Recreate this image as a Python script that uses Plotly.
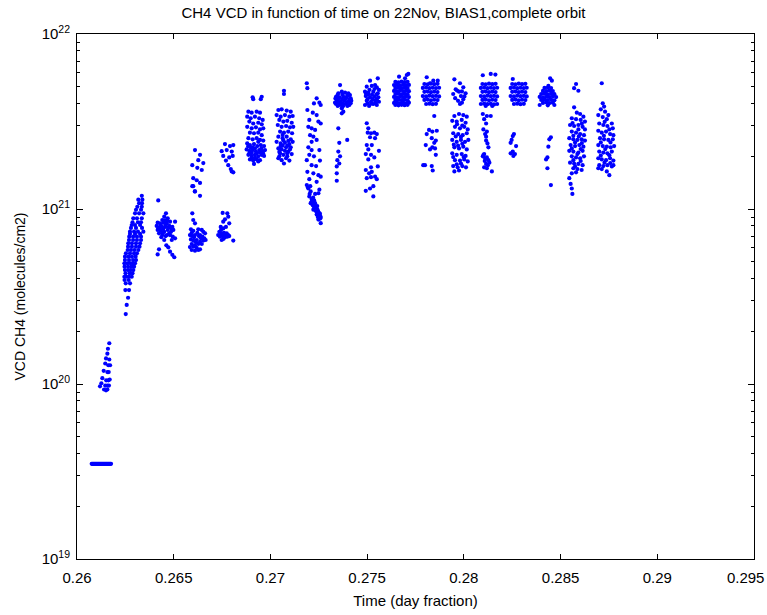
import plotly.graph_objects as go

# Each orbit segment: list of (time in day fraction, VCD CH4 in molecules/cm2)
seg01 = [(0.26076, 3.5e19), (0.26080, 3.5e19), (0.26084, 3.5e19), (0.26088, 3.5e19), (0.26092, 3.5e19),
         (0.26096, 3.5e19), (0.26100, 3.5e19), (0.26104, 3.5e19), (0.26108, 3.5e19), (0.26112, 3.5e19),
         (0.26116, 3.5e19), (0.26120, 3.5e19), (0.26124, 3.5e19), (0.26128, 3.5e19), (0.26132, 3.5e19),
         (0.26136, 3.5e19), (0.26140, 3.5e19), (0.26144, 3.5e19), (0.26148, 3.5e19), (0.26152, 3.5e19),
         (0.26156, 3.5e19), (0.26160, 3.5e19), (0.26164, 3.5e19), (0.26168, 3.5e19), (0.26172, 3.5e19),
         (0.26176, 3.5e19)]

seg02 = [(0.26167, 1.71e20), (0.26160, 1.59e20), (0.26157, 1.49e20), (0.26150, 1.40e20), (0.26167, 1.38e20),
         (0.26146, 1.31e20), (0.26162, 1.28e20), (0.26171, 1.28e20), (0.26138, 1.19e20), (0.26157, 1.17e20),
         (0.26164, 1.17e20), (0.26131, 1.08e20), (0.26151, 1.05e20), (0.26162, 1.05e20), (0.26169, 1.06e20),
         (0.26126, 1.01e20), (0.26146, 9.8e19), (0.26157, 9.8e19), (0.26165, 9.8e19), (0.26119, 9.7e19),
         (0.26140, 9.3e19), (0.26150, 9.2e19), (0.26157, 9.3e19)]

seg03 = [(0.26252, 2.51e20), (0.26257, 2.83e20), (0.26264, 3.11e20), (0.26250, 3.44e20), (0.26269, 3.44e20),
         (0.26252, 3.76e20), (0.26274, 3.76e20), (0.26246, 3.93e20), (0.26267, 3.93e20), (0.26245, 4.10e20),
         (0.26256, 4.10e20), (0.26269, 4.10e20), (0.26283, 4.10e20), (0.26251, 4.29e20), (0.26272, 4.29e20),
         (0.26287, 4.29e20), (0.26248, 4.48e20), (0.26264, 4.48e20), (0.26277, 4.48e20), (0.26291, 4.48e20),
         (0.26246, 4.68e20), (0.26264, 4.68e20), (0.26282, 4.68e20), (0.26295, 4.68e20), (0.26245, 4.89e20),
         (0.26261, 4.89e20), (0.26277, 4.89e20), (0.26290, 4.89e20), (0.26300, 4.89e20), (0.26248, 5.11e20),
         (0.26269, 5.11e20), (0.26290, 5.11e20), (0.26305, 5.11e20), (0.26248, 5.34e20), (0.26266, 5.34e20),
         (0.26284, 5.34e20), (0.26303, 5.34e20), (0.26253, 5.58e20), (0.26274, 5.58e20), (0.26295, 5.58e20),
         (0.26310, 5.58e20), (0.26262, 5.83e20), (0.26279, 5.83e20), (0.26297, 5.83e20), (0.26317, 5.83e20),
         (0.26264, 6.09e20), (0.26284, 6.09e20), (0.26305, 6.09e20), (0.26323, 6.09e20), (0.26265, 6.37e20),
         (0.26284, 6.37e20), (0.26305, 6.37e20), (0.26326, 6.37e20), (0.26269, 6.65e20), (0.26290, 6.65e20),
         (0.26310, 6.65e20), (0.26331, 6.65e20), (0.26270, 6.95e20), (0.26290, 6.95e20), (0.26310, 6.95e20),
         (0.26331, 6.95e20), (0.26274, 7.20e20), (0.26300, 7.20e20), (0.26326, 7.20e20), (0.26274, 7.42e20),
         (0.26295, 7.42e20), (0.26315, 7.42e20), (0.26343, 7.42e20), (0.26279, 7.80e20), (0.26305, 7.80e20),
         (0.26336, 7.80e20), (0.26283, 8.10e20), (0.26300, 8.10e20), (0.26326, 8.10e20), (0.26287, 8.40e20),
         (0.26315, 8.40e20), (0.26331, 8.40e20), (0.26291, 8.85e20), (0.26310, 8.85e20), (0.26335, 8.85e20),
         (0.26300, 9.45e20), (0.26321, 9.45e20), (0.26343, 9.45e20), (0.26305, 9.90e20), (0.26331, 9.90e20),
         (0.26312, 1.03e21), (0.26335, 1.03e21), (0.26321, 1.08e21), (0.26336, 1.08e21), (0.26317, 1.13e21),
         (0.26338, 1.13e21), (0.26335, 1.19e21)]

seg04 = [(0.26420, 1.12e21), (0.26460, 9.45e20), (0.26451, 9.04e20), (0.26469, 8.85e20), (0.26441, 8.65e20),
         (0.26417, 8.35e20), (0.26429, 8.28e20), (0.26446, 8.35e20), (0.26464, 8.28e20), (0.26481, 8.46e20),
         (0.26507, 8.46e20), (0.26412, 8.00e20), (0.26424, 7.86e20), (0.26438, 7.90e20), (0.26455, 7.90e20),
         (0.26472, 7.86e20), (0.26493, 7.90e20), (0.26417, 7.59e20), (0.26434, 7.50e20), (0.26451, 7.41e20),
         (0.26469, 7.59e20), (0.26486, 7.41e20), (0.26498, 7.59e20), (0.26424, 7.26e20), (0.26441, 7.10e20),
         (0.26464, 7.10e20), (0.26481, 7.10e20), (0.26495, 6.95e20), (0.26507, 6.80e20), (0.26490, 6.65e20),
         (0.26451, 6.65e20), (0.26462, 6.20e20), (0.26472, 6.04e20), (0.26481, 5.70e20), (0.26493, 5.47e20),
         (0.26503, 5.30e20), (0.26424, 5.88e20), (0.26417, 5.50e20), (0.26429, 7.59e20), (0.26446, 7.70e20),
         (0.26433, 8.10e20), (0.26458, 8.10e20), (0.26477, 8.00e20), (0.26421, 7.75e20), (0.26443, 7.30e20),
         (0.26476, 7.25e20), (0.26458, 7.00e20), (0.26436, 6.90e20), (0.26486, 7.75e20), (0.26466, 8.60e20),
         (0.26455, 8.60e20)]

seg05 = [(0.26601, 1.50e21), (0.26619, 1.46e21), (0.26636, 1.41e21), (0.26601, 1.35e21), (0.26610, 1.26e21),
         (0.26636, 1.19e21), (0.26645, 1.67e21), (0.26596, 1.35e21), (0.26609, 1.26e21), (0.26610, 2.17e21),
         (0.26636, 2.04e21), (0.26627, 1.90e21), (0.26653, 1.83e21), (0.26596, 1.78e21), (0.26622, 1.72e21),
         (0.26596, 9.45e20), (0.26601, 8.65e20), (0.26610, 8.28e20), (0.26589, 7.66e20), (0.26601, 7.50e20),
         (0.26627, 7.66e20), (0.26645, 7.59e20), (0.26653, 7.41e20), (0.26662, 7.26e20), (0.26584, 7.10e20),
         (0.26596, 7.00e20), (0.26610, 7.10e20), (0.26636, 7.10e20), (0.26648, 6.95e20), (0.26658, 6.80e20),
         (0.26589, 6.70e20), (0.26601, 6.60e20), (0.26619, 6.65e20), (0.26636, 6.50e20), (0.26653, 6.60e20),
         (0.26665, 6.65e20), (0.26593, 6.31e20), (0.26610, 6.20e20), (0.26627, 6.31e20), (0.26645, 6.31e20),
         (0.26593, 5.83e20), (0.26610, 5.78e20), (0.26627, 5.83e20), (0.26636, 5.88e20), (0.26584, 6.06e20),
         (0.26619, 6.00e20), (0.26605, 6.90e20), (0.26622, 7.30e20), (0.26641, 6.80e20), (0.26615, 6.45e20),
         (0.26593, 7.30e20), (0.26630, 7.00e20), (0.26602, 6.10e20)]

seg06 = [(0.26753, 9.50e20), (0.26777, 9.45e20), (0.26782, 9.04e20), (0.26765, 8.73e20), (0.26756, 8.46e20),
         (0.26787, 8.28e20), (0.26743, 7.90e20), (0.26756, 7.74e20), (0.26770, 7.90e20), (0.26736, 7.41e20),
         (0.26748, 7.26e20), (0.26760, 7.30e20), (0.26774, 7.26e20), (0.26782, 7.10e20), (0.26739, 6.95e20),
         (0.26753, 7.00e20), (0.26765, 6.90e20), (0.26777, 6.95e20), (0.26787, 7.00e20), (0.26748, 6.65e20),
         (0.26808, 6.60e20), (0.26730, 7.10e20), (0.26745, 7.60e20), (0.26762, 7.10e20), (0.26742, 7.05e20),
         (0.26758, 6.75e20)]

seg07 = [(0.26765, 2.35e21), (0.26791, 2.29e21), (0.26808, 2.32e21), (0.26748, 2.14e21), (0.26774, 2.17e21),
         (0.26800, 2.13e21), (0.26756, 2.01e21), (0.26787, 1.97e21), (0.26805, 2.01e21), (0.26770, 1.89e21),
         (0.26782, 1.78e21), (0.26795, 1.69e21), (0.26800, 1.64e21), (0.26808, 1.62e21)]

seg08 = [(0.26908, 4.35e21), (0.26955, 4.38e21), (0.26911, 4.24e21), (0.26950, 4.24e21), (0.26886, 3.60e21),
         (0.26903, 3.55e21), (0.26929, 3.60e21), (0.26946, 3.55e21), (0.26880, 3.37e21), (0.26898, 3.30e21),
         (0.26920, 3.37e21), (0.26942, 3.30e21), (0.26960, 3.23e21), (0.26891, 3.16e21), (0.26911, 3.08e21),
         (0.26937, 3.11e21), (0.26955, 3.05e21), (0.26880, 2.95e21), (0.26903, 2.89e21), (0.26925, 2.93e21),
         (0.26946, 2.85e21), (0.26963, 2.89e21), (0.26894, 2.73e21), (0.26915, 2.71e21), (0.26937, 2.73e21),
         (0.26955, 2.64e21), (0.26886, 2.54e21), (0.26908, 2.50e21), (0.26929, 2.54e21), (0.26946, 2.48e21),
         (0.26963, 2.46e21), (0.26880, 2.37e21), (0.26894, 2.32e21), (0.26915, 2.35e21), (0.26932, 2.29e21),
         (0.26950, 2.32e21), (0.26967, 2.29e21), (0.26877, 2.19e21), (0.26891, 2.15e21), (0.26908, 2.17e21),
         (0.26925, 2.13e21), (0.26942, 2.17e21), (0.26960, 2.13e21), (0.26972, 2.17e21), (0.26886, 2.04e21),
         (0.26903, 2.01e21), (0.26920, 2.04e21), (0.26937, 2.00e21), (0.26955, 2.04e21), (0.26967, 2.01e21),
         (0.26894, 1.92e21), (0.26911, 1.89e21), (0.26929, 1.92e21), (0.26946, 1.90e21), (0.26915, 1.81e21),
         (0.26891, 2.08e21), (0.26908, 2.25e21), (0.26937, 2.42e21), (0.26899, 2.24e21), (0.26920, 2.22e21),
         (0.26953, 2.22e21), (0.26885, 2.28e21), (0.26929, 2.08e21), (0.26962, 2.08e21), (0.26903, 2.10e21),
         (0.26946, 2.10e21), (0.26920, 1.96e21), (0.26937, 1.87e21), (0.26903, 1.95e21)]

seg09 = [(0.27070, 4.74e21), (0.27070, 4.54e21), (0.27041, 3.68e21), (0.27058, 3.71e21), (0.27084, 3.65e21),
         (0.27105, 3.60e21), (0.27032, 3.44e21), (0.27053, 3.37e21), (0.27075, 3.44e21), (0.27098, 3.37e21),
         (0.27115, 3.40e21), (0.27046, 3.23e21), (0.27067, 3.16e21), (0.27087, 3.19e21), (0.27110, 3.11e21),
         (0.27038, 3.02e21), (0.27058, 2.95e21), (0.27081, 2.98e21), (0.27101, 2.93e21), (0.27118, 2.95e21),
         (0.27050, 2.77e21), (0.27070, 2.73e21), (0.27092, 2.77e21), (0.27112, 2.71e21), (0.27041, 2.59e21),
         (0.27063, 2.54e21), (0.27084, 2.59e21), (0.27105, 2.50e21), (0.27032, 2.42e21), (0.27053, 2.37e21),
         (0.27075, 2.39e21), (0.27098, 2.35e21), (0.27115, 2.42e21), (0.27041, 2.22e21), (0.27058, 2.19e21),
         (0.27081, 2.25e21), (0.27101, 2.19e21), (0.27050, 2.08e21), (0.27067, 2.04e21), (0.27087, 2.08e21),
         (0.27110, 2.06e21), (0.27041, 1.95e21), (0.27058, 1.90e21), (0.27081, 1.95e21), (0.27098, 1.89e21),
         (0.27070, 1.82e21), (0.27053, 2.29e21), (0.27092, 2.13e21), (0.27063, 2.30e21), (0.27088, 2.30e21),
         (0.27046, 2.12e21), (0.27075, 2.15e21), (0.27105, 2.25e21), (0.27063, 2.65e21), (0.27092, 2.45e21),
         (0.27046, 2.00e21), (0.27087, 2.00e21), (0.27067, 2.47e21)]

seg10 = [(0.27188, 5.23e21), (0.27191, 4.90e21), (0.27239, 4.29e21), (0.27225, 4.01e21), (0.27253, 4.05e21),
         (0.27260, 3.93e21), (0.27191, 3.68e21), (0.27219, 3.55e21), (0.27239, 3.44e21), (0.27201, 3.23e21),
         (0.27248, 3.16e21), (0.27260, 3.08e21), (0.27196, 2.95e21), (0.27213, 2.89e21), (0.27231, 2.83e21),
         (0.27205, 2.64e21), (0.27222, 2.59e21), (0.27239, 2.48e21), (0.27213, 2.42e21), (0.27196, 2.25e21),
         (0.27213, 2.17e21), (0.27253, 2.17e21), (0.27201, 2.04e21), (0.27225, 2.00e21), (0.27188, 1.90e21),
         (0.27256, 1.89e21), (0.27213, 1.78e21), (0.27236, 1.76e21), (0.27191, 1.63e21), (0.27222, 1.60e21),
         (0.27248, 1.56e21), (0.27260, 1.53e21), (0.27201, 1.48e21), (0.27239, 1.43e21), (0.27188, 1.37e21),
         (0.27196, 1.31e21), (0.27253, 1.29e21), (0.27208, 1.26e21), (0.27231, 1.22e21), (0.27248, 1.23e21),
         (0.27201, 1.18e21), (0.27213, 1.14e21), (0.27222, 1.10e21), (0.27231, 1.08e21), (0.27219, 1.05e21),
         (0.27236, 1.03e21), (0.27225, 1.01e21), (0.27242, 1.00e21), (0.27236, 9.70e20), (0.27248, 9.60e20),
         (0.27256, 9.40e20), (0.27239, 9.30e20), (0.27253, 9.10e20), (0.27260, 8.90e20), (0.27248, 8.70e20),
         (0.27260, 8.30e20), (0.27208, 1.08e21), (0.27222, 9.90e20), (0.27213, 1.10e21), (0.27228, 1.06e21),
         (0.27233, 1.02e21), (0.27245, 9.80e20), (0.27242, 9.45e20), (0.27251, 9.25e20), (0.27245, 9.00e20),
         (0.27256, 8.80e20), (0.27216, 1.12e21), (0.27226, 1.12e21), (0.27242, 1.04e21), (0.27250, 9.50e20),
         (0.27258, 9.10e20), (0.27221, 1.16e21), (0.27203, 1.22e21), (0.27194, 1.33e21), (0.27206, 1.35e21)]

seg11 = [(0.27360, 5.11e21), (0.27351, 4.58e21), (0.27369, 4.68e21), (0.27386, 4.62e21), (0.27403, 4.58e21),
         (0.27411, 4.48e21), (0.27339, 4.38e21), (0.27356, 4.35e21), (0.27377, 4.38e21), (0.27394, 4.35e21),
         (0.27415, 4.29e21), (0.27343, 4.16e21), (0.27363, 4.10e21), (0.27381, 4.16e21), (0.27403, 4.10e21),
         (0.27418, 4.16e21), (0.27339, 3.98e21), (0.27360, 3.93e21), (0.27386, 3.98e21), (0.27408, 3.93e21),
         (0.27369, 3.76e21), (0.27377, 3.60e21), (0.27369, 3.52e21), (0.27347, 4.48e21), (0.27372, 4.50e21),
         (0.27398, 4.45e21), (0.27352, 4.25e21), (0.27370, 4.25e21), (0.27389, 4.25e21), (0.27408, 4.22e21),
         (0.27351, 4.05e21), (0.27372, 4.02e21), (0.27395, 4.05e21), (0.27415, 4.02e21), (0.27348, 3.88e21),
         (0.27375, 3.87e21), (0.27398, 3.88e21), (0.27336, 4.28e21), (0.27334, 4.05e21), (0.27351, 2.89e21),
         (0.27356, 2.39e21), (0.27397, 2.48e21), (0.27351, 2.13e21), (0.27360, 2.00e21), (0.27346, 1.90e21),
         (0.27356, 1.82e21), (0.27343, 1.75e21), (0.27343, 1.60e21), (0.27343, 1.45e21)]

seg12 = [(0.27515, 5.41e21), (0.27555, 5.58e21), (0.27541, 5.11e21), (0.27498, 5.00e21), (0.27524, 5.05e21),
         (0.27550, 4.96e21), (0.27561, 4.79e21), (0.27489, 4.68e21), (0.27506, 4.62e21), (0.27532, 4.68e21),
         (0.27555, 4.58e21), (0.27493, 4.42e21), (0.27515, 4.35e21), (0.27537, 4.38e21), (0.27558, 4.35e21),
         (0.27498, 4.16e21), (0.27520, 4.10e21), (0.27541, 4.16e21), (0.27561, 4.10e21), (0.27489, 3.93e21),
         (0.27510, 3.88e21), (0.27532, 3.98e21), (0.27550, 3.93e21), (0.27505, 4.50e21), (0.27525, 4.50e21),
         (0.27547, 4.50e21), (0.27503, 4.25e21), (0.27528, 4.24e21), (0.27550, 4.24e21), (0.27512, 4.80e21),
         (0.27538, 4.85e21), (0.27502, 4.02e21), (0.27522, 4.00e21), (0.27545, 4.03e21), (0.27494, 4.55e21),
         (0.27498, 3.09e21), (0.27506, 2.89e21), (0.27503, 2.73e21), (0.27520, 2.71e21), (0.27537, 2.73e21),
         (0.27550, 2.68e21), (0.27515, 2.57e21), (0.27541, 2.54e21), (0.27498, 2.32e21), (0.27524, 2.32e21),
         (0.27506, 2.19e21), (0.27561, 2.15e21), (0.27493, 2.06e21), (0.27520, 2.04e21), (0.27537, 1.97e21),
         (0.27506, 1.92e21), (0.27555, 1.75e21), (0.27520, 1.73e21), (0.27493, 1.67e21), (0.27510, 1.60e21),
         (0.27524, 1.63e21), (0.27541, 1.53e21), (0.27498, 1.50e21), (0.27520, 1.52e21), (0.27550, 1.48e21),
         (0.27532, 1.35e21), (0.27515, 1.31e21), (0.27493, 1.27e21), (0.27532, 1.18e21)]

seg13 = [(0.27665, 5.70e21), (0.27705, 5.83e21), (0.27713, 5.91e21), (0.27696, 5.58e21),
         (0.27646, 5.32e21), (0.27662, 5.30e21), (0.27678, 5.34e21), (0.27694, 5.31e21), (0.27709, 5.33e21),
         (0.27639, 5.11e21), (0.27654, 5.13e21), (0.27670, 5.09e21), (0.27686, 5.12e21), (0.27701, 5.10e21), (0.27716, 5.12e21),
         (0.27646, 4.92e21), (0.27662, 4.94e21), (0.27678, 4.90e21), (0.27694, 4.93e21), (0.27709, 4.91e21),
         (0.27639, 4.73e21), (0.27654, 4.71e21), (0.27670, 4.75e21), (0.27686, 4.72e21), (0.27701, 4.74e21), (0.27716, 4.71e21),
         (0.27646, 4.54e21), (0.27662, 4.56e21), (0.27678, 4.52e21), (0.27694, 4.55e21), (0.27709, 4.53e21),
         (0.27639, 4.37e21), (0.27654, 4.35e21), (0.27670, 4.38e21), (0.27686, 4.36e21), (0.27701, 4.39e21), (0.27716, 4.36e21),
         (0.27646, 4.20e21), (0.27662, 4.22e21), (0.27678, 4.19e21), (0.27694, 4.21e21), (0.27709, 4.18e21),
         (0.27639, 4.04e21), (0.27654, 4.06e21), (0.27670, 4.03e21), (0.27686, 4.05e21), (0.27701, 4.02e21), (0.27716, 4.05e21),
         (0.27646, 3.93e21), (0.27662, 3.91e21), (0.27678, 3.94e21), (0.27694, 3.92e21), (0.27709, 3.94e21)]

seg14 = [(0.27808, 5.66e21), (0.27842, 5.41e21), (0.27865, 5.41e21), (0.27825, 5.23e21),
         (0.27796, 5.18e21), (0.27813, 5.16e21), (0.27830, 5.20e21), (0.27847, 5.17e21), (0.27864, 5.19e21),
         (0.27788, 4.92e21), (0.27805, 4.94e21), (0.27822, 4.90e21), (0.27839, 4.93e21), (0.27856, 4.91e21), (0.27872, 4.93e21),
         (0.27796, 4.67e21), (0.27813, 4.69e21), (0.27830, 4.65e21), (0.27847, 4.68e21), (0.27864, 4.66e21),
         (0.27788, 4.42e21), (0.27805, 4.40e21), (0.27822, 4.44e21), (0.27839, 4.41e21), (0.27856, 4.43e21), (0.27872, 4.40e21),
         (0.27796, 4.20e21), (0.27813, 4.22e21), (0.27830, 4.18e21), (0.27847, 4.21e21), (0.27864, 4.19e21),
         (0.27805, 3.98e21), (0.27822, 4.00e21), (0.27839, 3.97e21), (0.27856, 3.99e21),
         (0.27847, 3.40e21), (0.27820, 2.83e21), (0.27837, 2.77e21), (0.27860, 2.80e21), (0.27808, 2.68e21),
         (0.27834, 2.54e21), (0.27855, 2.46e21), (0.27847, 2.39e21), (0.27803, 2.32e21), (0.27837, 2.25e21),
         (0.27825, 2.19e21), (0.27851, 2.22e21), (0.27855, 2.04e21), (0.27790, 1.78e21), (0.27799, 1.78e21),
         (0.27834, 1.76e21), (0.27839, 1.66e21)]

seg15 = [(0.27951, 5.51e21), (0.27980, 5.23e21), (0.27997, 4.96e21), (0.27958, 4.83e21), (0.27975, 4.68e21),
         (0.28009, 4.58e21), (0.27985, 4.42e21), (0.27945, 4.54e21), (0.27997, 4.24e21), (0.27980, 3.98e21),
         (0.27965, 4.75e21), (0.27990, 4.70e21), (0.28003, 4.40e21), (0.27955, 4.30e21), (0.27970, 4.15e21),
         (0.27990, 4.05e21), (0.27951, 3.40e21), (0.27975, 3.49e21), (0.27997, 3.44e21), (0.28015, 3.37e21),
         (0.27940, 3.19e21), (0.27963, 3.16e21), (0.27989, 3.23e21), (0.28009, 3.11e21), (0.27954, 2.95e21),
         (0.27980, 2.89e21), (0.28002, 2.95e21), (0.28020, 2.85e21), (0.27945, 2.71e21), (0.27971, 2.68e21),
         (0.27994, 2.64e21), (0.28015, 2.71e21), (0.27940, 2.48e21), (0.27963, 2.42e21), (0.27985, 2.48e21),
         (0.28006, 2.42e21), (0.28023, 2.48e21), (0.27951, 2.25e21), (0.27975, 2.22e21), (0.27997, 2.27e21),
         (0.28015, 2.19e21), (0.27940, 2.08e21), (0.27963, 2.04e21), (0.27989, 2.06e21), (0.28009, 2.01e21),
         (0.27954, 1.90e21), (0.27980, 1.89e21), (0.28002, 1.92e21), (0.28020, 1.87e21), (0.27945, 1.76e21),
         (0.27968, 1.73e21), (0.27992, 1.76e21), (0.28011, 1.73e21), (0.27951, 1.64e21), (0.27975, 1.66e21),
         (0.27958, 2.60e21), (0.27985, 2.58e21), (0.27948, 2.33e21), (0.27992, 2.36e21), (0.27970, 2.30e21),
         (0.27945, 1.98e21), (0.27999, 1.98e21), (0.27963, 1.80e21), (0.27985, 1.82e21), (0.27965, 3.05e21),
         (0.27992, 3.00e21)]

seg16 = [(0.28098, 5.81e21), (0.28139, 5.91e21), (0.28163, 5.86e21),
         (0.28096, 5.18e21), (0.28113, 5.16e21), (0.28130, 5.20e21), (0.28147, 5.17e21), (0.28164, 5.19e21),
         (0.28088, 4.92e21), (0.28105, 4.94e21), (0.28122, 4.90e21), (0.28139, 4.93e21), (0.28156, 4.91e21), (0.28172, 4.93e21),
         (0.28096, 4.67e21), (0.28113, 4.69e21), (0.28130, 4.65e21), (0.28147, 4.68e21), (0.28164, 4.66e21),
         (0.28088, 4.42e21), (0.28105, 4.40e21), (0.28122, 4.44e21), (0.28139, 4.41e21), (0.28156, 4.43e21), (0.28172, 4.40e21),
         (0.28096, 4.20e21), (0.28113, 4.22e21), (0.28130, 4.18e21), (0.28147, 4.21e21), (0.28164, 4.19e21),
         (0.28088, 3.98e21), (0.28105, 4.00e21), (0.28122, 3.97e21), (0.28139, 3.99e21), (0.28156, 3.96e21), (0.28172, 3.98e21),
         (0.28113, 3.88e21), (0.28147, 3.88e21),
         (0.28098, 3.49e21), (0.28119, 3.40e21), (0.28139, 3.40e21), (0.28105, 3.26e21), (0.28115, 3.08e21),
         (0.28101, 2.85e21), (0.28119, 2.77e21), (0.28110, 2.68e21), (0.28115, 2.59e21), (0.28115, 2.46e21),
         (0.28122, 2.37e21), (0.28127, 2.25e21), (0.28105, 2.06e21), (0.28098, 2.00e21), (0.28119, 1.97e21),
         (0.28127, 1.90e21), (0.28115, 1.81e21), (0.28132, 1.84e21), (0.28105, 1.73e21), (0.28119, 1.71e21),
         (0.28145, 1.64e21), (0.28101, 2.03e21), (0.28110, 1.94e21), (0.28124, 1.78e21), (0.28108, 1.88e21)]

seg17 = [(0.28253, 5.53e21),
         (0.28250, 5.18e21), (0.28267, 5.16e21), (0.28284, 5.20e21), (0.28301, 5.17e21), (0.28318, 5.19e21),
         (0.28242, 4.92e21), (0.28259, 4.94e21), (0.28276, 4.90e21), (0.28293, 4.93e21), (0.28310, 4.91e21), (0.28325, 4.93e21),
         (0.28250, 4.67e21), (0.28267, 4.69e21), (0.28284, 4.65e21), (0.28301, 4.68e21), (0.28318, 4.66e21),
         (0.28242, 4.42e21), (0.28259, 4.40e21), (0.28276, 4.44e21), (0.28293, 4.41e21), (0.28310, 4.43e21), (0.28325, 4.40e21),
         (0.28250, 4.20e21), (0.28267, 4.22e21), (0.28284, 4.18e21), (0.28301, 4.21e21), (0.28318, 4.19e21),
         (0.28259, 3.98e21), (0.28276, 4.00e21), (0.28293, 3.97e21), (0.28310, 3.99e21),
         (0.28259, 2.68e21), (0.28253, 2.61e21), (0.28247, 2.48e21), (0.28242, 2.39e21), (0.28270, 2.29e21),
         (0.28253, 2.13e21), (0.28242, 2.08e21), (0.28256, 2.01e21), (0.28264, 2.06e21)]

seg18 = [(0.28446, 5.58e21), (0.28455, 5.41e21), (0.28437, 5.05e21),
         (0.28417, 4.92e21), (0.28434, 4.94e21), (0.28451, 4.91e21),
         (0.28409, 4.73e21), (0.28426, 4.71e21), (0.28443, 4.75e21), (0.28460, 4.72e21),
         (0.28400, 4.54e21), (0.28417, 4.56e21), (0.28434, 4.52e21), (0.28451, 4.55e21), (0.28468, 4.53e21),
         (0.28392, 4.37e21), (0.28409, 4.35e21), (0.28426, 4.38e21), (0.28443, 4.36e21), (0.28460, 4.39e21), (0.28477, 4.36e21),
         (0.28400, 4.20e21), (0.28417, 4.22e21), (0.28434, 4.19e21), (0.28451, 4.21e21), (0.28468, 4.18e21),
         (0.28409, 4.04e21), (0.28426, 4.06e21), (0.28443, 4.03e21), (0.28460, 4.05e21),
         (0.28392, 3.93e21), (0.28434, 3.91e21), (0.28468, 3.93e21),
         (0.28450, 2.57e21), (0.28442, 2.50e21), (0.28437, 2.27e21), (0.28432, 1.97e21), (0.28425, 1.92e21),
         (0.28432, 1.71e21), (0.28450, 1.37e21)]

seg19 = [(0.28580, 5.18e21), (0.28570, 4.90e21), (0.28592, 4.74e21), (0.28570, 3.81e21), (0.28584, 3.55e21),
         (0.28601, 3.49e21), (0.28618, 3.37e21), (0.28558, 3.30e21), (0.28580, 3.26e21), (0.28604, 3.23e21),
         (0.28626, 3.16e21), (0.28549, 3.02e21), (0.28570, 2.98e21), (0.28592, 3.02e21), (0.28614, 2.95e21),
         (0.28626, 2.85e21), (0.28558, 2.77e21), (0.28580, 2.73e21), (0.28601, 2.68e21), (0.28621, 2.64e21),
         (0.28545, 2.54e21), (0.28566, 2.50e21), (0.28587, 2.48e21), (0.28609, 2.50e21), (0.28626, 2.46e21),
         (0.28552, 2.32e21), (0.28575, 2.29e21), (0.28597, 2.32e21), (0.28618, 2.27e21), (0.28545, 2.15e21),
         (0.28566, 2.13e21), (0.28592, 2.10e21), (0.28614, 2.15e21), (0.28558, 2.00e21), (0.28580, 1.97e21),
         (0.28601, 1.95e21), (0.28621, 2.00e21), (0.28549, 1.84e21), (0.28570, 1.82e21), (0.28592, 1.81e21),
         (0.28614, 1.78e21), (0.28566, 1.71e21), (0.28587, 1.69e21), (0.28609, 1.67e21), (0.28558, 1.60e21),
         (0.28580, 1.62e21), (0.28545, 1.50e21), (0.28552, 1.39e21), (0.28558, 1.31e21), (0.28561, 1.22e21),
         (0.28562, 3.10e21), (0.28610, 3.08e21), (0.28592, 2.85e21), (0.28566, 2.62e21), (0.28594, 2.60e21),
         (0.28575, 2.40e21), (0.28610, 2.38e21), (0.28558, 2.22e21), (0.28604, 2.20e21), (0.28587, 2.06e21),
         (0.28566, 1.90e21), (0.28604, 1.88e21), (0.28575, 1.75e21)]

seg20 = [(0.28713, 5.23e21), (0.28718, 4.02e21), (0.28725, 3.85e21), (0.28708, 3.71e21), (0.28730, 3.60e21),
         (0.28747, 3.44e21), (0.28695, 3.44e21), (0.28718, 3.35e21), (0.28739, 3.26e21), (0.28765, 3.08e21),
         (0.28700, 3.08e21), (0.28721, 3.02e21), (0.28742, 2.98e21), (0.28770, 2.89e21), (0.28695, 2.80e21),
         (0.28713, 2.73e21), (0.28735, 2.77e21), (0.28756, 2.68e21), (0.28773, 2.64e21), (0.28704, 2.54e21),
         (0.28725, 2.50e21), (0.28747, 2.48e21), (0.28770, 2.50e21), (0.28695, 2.32e21), (0.28718, 2.29e21),
         (0.28739, 2.27e21), (0.28759, 2.25e21), (0.28777, 2.29e21), (0.28700, 2.13e21), (0.28721, 2.10e21),
         (0.28742, 2.08e21), (0.28765, 2.13e21), (0.28695, 1.95e21), (0.28713, 1.92e21), (0.28735, 1.90e21),
         (0.28756, 1.95e21), (0.28773, 1.89e21), (0.28700, 1.78e21), (0.28721, 1.76e21), (0.28742, 1.78e21),
         (0.28765, 1.75e21), (0.28713, 1.69e21), (0.28739, 1.64e21), (0.28752, 1.56e21), (0.28695, 1.71e21),
         (0.28773, 1.78e21), (0.28728, 3.15e21), (0.28752, 2.85e21), (0.28724, 2.62e21), (0.28758, 2.40e21),
         (0.28708, 2.40e21), (0.28731, 2.20e21), (0.28752, 2.03e21), (0.28708, 2.02e21), (0.28727, 1.84e21),
         (0.28757, 1.83e21)]

segments = [seg01, seg02, seg03, seg04, seg05, seg06, seg07, seg08, seg09, seg10,
            seg11, seg12, seg13, seg14, seg15, seg16, seg17, seg18, seg19, seg20]

time_vals = [p[0] for s in segments for p in s]
vcd_vals = [p[1] for s in segments for p in s]

NB = "\u00a0"
x_ticks = [0.26, 0.265, 0.27, 0.275, 0.28, 0.285, 0.29, 0.295]
x_labels = ["0.26", "0.265", "0.27", "0.275", "0.28", "0.285", "0.29", "0.295" + NB * 4]
y_ticks = [1e19, 1e20, 1e21, 1e22]
y_labels = ["10<sup>19</sup>", "10<sup>20</sup>", "10<sup>21</sup>", "10<sup>22</sup>"]
y_minor = [m * 10.0 ** e for e in (19, 20, 21) for m in range(2, 10)]

FONT = "Liberation Sans, Arial, Helvetica, sans-serif"

fig = go.Figure(go.Scatter(
    x=time_vals, y=vcd_vals, mode="markers",
    marker=dict(color="#0000ff", size=4.2, symbol="circle", line=dict(width=0)),
    showlegend=False, hoverinfo="skip",
))

fig.update_layout(
    width=767, height=615,
    margin=dict(l=77, r=13, t=34, b=56),
    paper_bgcolor="white", plot_bgcolor="white",
    hovermode=False,
    font=dict(family=FONT, size=15, color="black"),
    title=dict(text="CH4 VCD in function of time on 22Nov, BIAS1,complete orbit",
               x=0.5, xref="container", xanchor="center",
               y=1 - 13 / 615, yref="container", yanchor="middle",
               font=dict(family=FONT, size=15, color="black")),
    xaxis=dict(range=[0.26, 0.295], tickmode="array", tickvals=x_ticks, ticktext=x_labels,
               ticks="inside", ticklen=5, tickcolor="black", tickwidth=1,
               showline=True, linecolor="black", linewidth=1, mirror="ticks",
               showgrid=False, zeroline=False, ticklabelstandoff=5,
               ticklabeloverflow="allow",
               tickfont=dict(family=FONT, size=15, color="black"),
               title=dict(text="Time (day fraction)", standoff=10,
                          font=dict(family=FONT, size=15, color="black")),
               automargin=False),
    yaxis=dict(type="log", range=[19, 22], tickmode="array", tickvals=y_ticks, ticktext=y_labels,
               ticks="inside", ticklen=6, tickcolor="black", tickwidth=1,
               minor=dict(ticks="inside", ticklen=3, tickcolor="black", tickvals=y_minor, showgrid=False),
               showline=True, linecolor="black", linewidth=1, mirror="ticks",
               showgrid=False, zeroline=False, ticklabelstandoff=3,
               ticklabeloverflow="allow",
               tickfont=dict(family=FONT, size=15, color="black"),
               title=dict(text="VCD CH4 (molecules/cm2)", standoff=12,
                          font=dict(family=FONT, size=14, color="black")),
               automargin=False),
)

fig.write_html("out.html", config={"displayModeBar": False, "staticPlot": True},
               post_script="document.body.style.margin='0px';")
